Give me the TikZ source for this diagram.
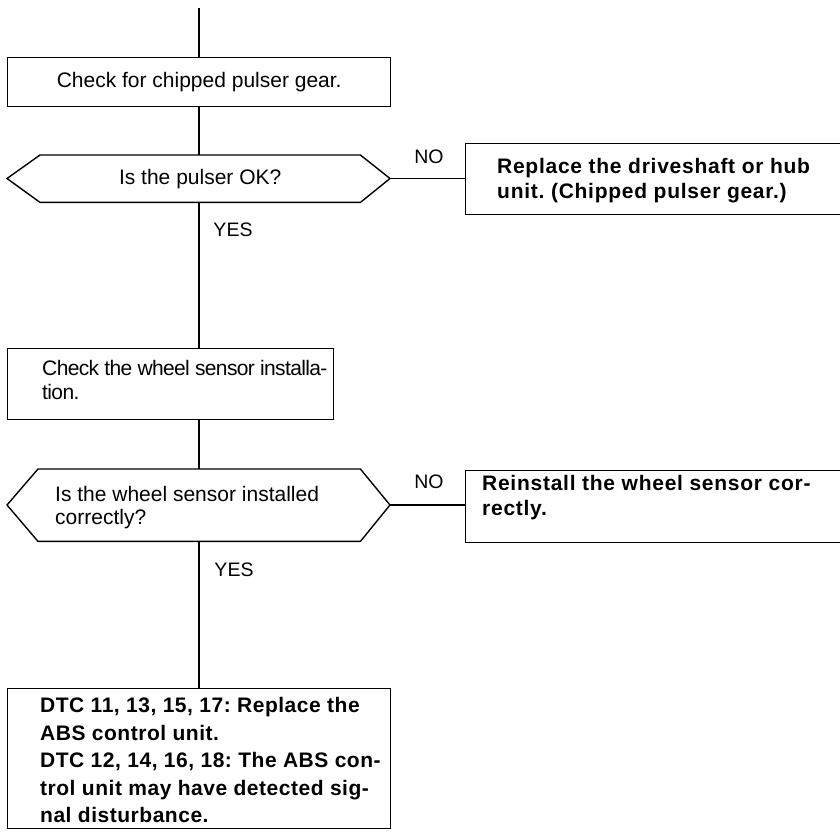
\documentclass[tikz,border=0pt]{standalone}
\usepackage{fontspec}
\setmainfont{Liberation Sans}
\newfontfamily\bwide[LetterSpace=3.5]{Liberation Sans}
\newfontfamily\bmid[LetterSpace=2.5]{Liberation Sans}
\newfontfamily\rnarrow[LetterSpace=-3]{Liberation Sans}
\usetikzlibrary{calc}
\begin{document}
\frenchspacing
\begin{tikzpicture}[x=1pt,y=-1pt,
  frame/.style={draw, line width=1.4pt, inner sep=0pt, anchor=north west},
  hole/.style={inner sep=0pt, anchor=north west},
  reg/.style={inner sep=0pt, align=left, anchor=west, font=\fontsize{21}{24}\selectfont},
  regc/.style={inner sep=0pt, align=center, font=\fontsize{21}{24}\selectfont},
  bld/.style={inner sep=0pt, align=left, anchor=west, font=\bwide\bfseries\fontsize{21}{27.5}\selectfont},
  lbl/.style={inner sep=0pt, font=\fontsize{19.5}{22}\selectfont},
  conn/.style={line width=1.3pt}]
\useasboundingbox (0,0) rectangle (840,832);

% boxes
\node[frame, minimum width=383pt, minimum height=49pt] (box1) at (7,57) {};
\node[regc] (t1) at (box1.center) {Check for chipped pulser gear.};

\node[hole, minimum width=320pt, minimum height=47pt] (hexA) at (40,155) {};
\coordinate (hexAl) at (7,178.5);
\coordinate (hexAr) at (390,178.5);
\draw[line width=1.4pt] (hexA.north west) -- (hexA.north east) -- (hexAr) -- (hexA.south east) -- (hexA.south west) -- (hexAl) -- cycle;
\node[regc] (ta) at (hexA.center) {Is the pulser OK?};

\node[frame, minimum width=377pt, minimum height=71pt] (no1) at (465,143) {};
\node[bld, font=\bwide\bfseries\fontsize{21}{25}\selectfont] (tno1) at (497,180.5) {Replace the driveshaft or hub\\unit. (Chipped pulser gear.)};

\node[frame, minimum width=326pt, minimum height=71pt] (box2) at (7,348) {};
\node[reg, font=\rnarrow\fontsize{21}{24}\selectfont] (t2) at (42,380) {Check the wheel sensor installa-\\tion.};

\node[hole, minimum width=322pt, minimum height=72pt] (hexB) at (38,469) {};
\coordinate (hexBl) at (7,505);
\coordinate (hexBr) at (390,505);
\draw[line width=1.4pt] (hexB.north west) -- (hexB.north east) -- (hexBr) -- (hexB.south east) -- (hexB.south west) -- (hexBl) -- cycle;
\node[reg, font=\fontsize{21}{23}\selectfont] (tb) at (55,507.5) {Is the wheel sensor installed\\correctly?};

\node[frame, minimum width=377pt, minimum height=72pt] (no2) at (465,470) {};
\node[bld, font=\bwide\bfseries\fontsize{21}{25}\selectfont] (tno2) at (482,497.5) {Reinstall the wheel sensor cor-\\rectly.};

\node[frame, minimum width=383pt, minimum height=140pt] (box3) at (7,688) {};
\node[bld, font=\bmid\bfseries\fontsize{21}{27.5}\selectfont] (t3) at (40,760) {DTC 11, 13, 15, 17: Replace the\\ABS control unit.\\DTC 12, 14, 16, 18: The ABS con-\\trol unit may have detected sig-\\nal disturbance.};

% labels
\node[lbl] (noA) at (429,157) {NO};
\node[lbl] (yesA) at (233,230) {YES};
\node[lbl] (noB) at (429,482) {NO};
\node[lbl] (yesB) at (234,570) {YES};

% connectors
\coordinate (top) at (199,8);
\draw[conn] (top) -- (top |- box1.north);
\draw[conn] (top |- box1.south) -- (top |- hexA.north);
\draw[conn] (top |- hexA.south) -- (top |- box2.north);
\draw[conn] (top |- box2.south) -- (top |- hexB.north);
\draw[conn] (top |- hexB.south) -- (top |- box3.north);
\draw[conn] (hexAr) -- (hexAr -| no1.west);
\draw[conn] (hexBr) -- (hexBr -| no2.west);
\end{tikzpicture}
\end{document}
